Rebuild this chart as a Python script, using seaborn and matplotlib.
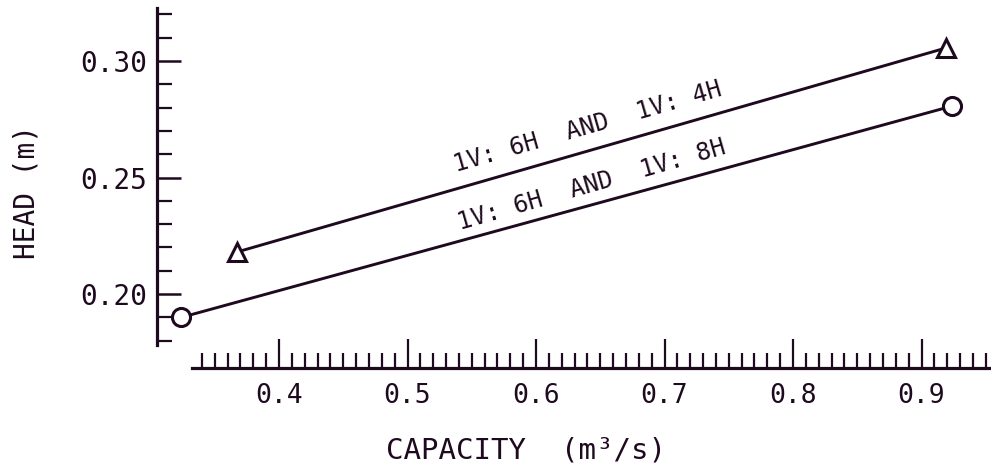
import matplotlib
matplotlib.use('Agg')
import matplotlib.pyplot as plt
import seaborn as sns
from matplotlib.ticker import FormatStrFormatter

# Values
capacity_48 = [0.367, 0.919]   # 1V:6H and 1V:4H (triangles)
head_48 = [0.218, 0.3056]
capacity_68 = [0.324, 0.924]   # 1V:6H and 1V:8H (circles)
head_68 = [0.190, 0.2807]
label_48 = '1V: 6H  AND  1V: 4H'
label_68 = '1V: 6H  AND  1V: 8H'
x_major = [0.4, 0.5, 0.6, 0.7, 0.8, 0.9]
y_major = [0.20, 0.25, 0.30]

ink = '#1e0a1e'

sns.set_theme(style='white')
plt.rcParams['font.family'] = ['DejaVu Sans Mono', 'DejaVu Sans']

fig = plt.figure(figsize=(9.91, 4.68), dpi=100)
ax = fig.add_axes([0.1519, 0.1974, 0.8493, 0.7967])

sns.lineplot(x=capacity_48, y=head_48, ax=ax, color=ink, lw=2.1, marker='^',
             markersize=13, markerfacecolor='white', markeredgecolor=ink,
             markeredgewidth=2.2)
sns.lineplot(x=capacity_68, y=head_68, ax=ax, color=ink, lw=2.1, marker='o',
             markersize=13, markerfacecolor='white', markeredgecolor=ink,
             markeredgewidth=2.2)

ax.set_xlim(0.30, 0.955)
ax.set_ylim(0.165, 0.325)

# axis layout: detached spines like a plotter drawing
ax.spines['top'].set_visible(False)
ax.spines['right'].set_visible(False)
ax.spines['left'].set_position(('data', 0.305))
ax.spines['bottom'].set_position(('data', 0.1682))
ax.spines['left'].set_bounds(0.1781, 0.3227)
ax.spines['bottom'].set_bounds(0.3323, 0.9533)
for s in ('left', 'bottom'):
    ax.spines[s].set_color(ink)
    ax.spines[s].set_linewidth(2.3)

ax.set_xticks(x_major)
ax.set_xticks([x / 100 for x in range(34, 96)], minor=True)
ax.set_yticks(y_major)
ax.set_yticks([y / 100 for y in range(18, 33)], minor=True)
ax.xaxis.set_major_formatter(FormatStrFormatter('%.1f'))
ax.yaxis.set_major_formatter(FormatStrFormatter('%.2f'))

ax.tick_params(axis='x', which='major', direction='in', length=21, width=1.6,
               color=ink, labelcolor=ink, labelsize=19, pad=11, bottom=True)
ax.tick_params(axis='x', which='minor', direction='in', length=11, width=1.6,
               color=ink, bottom=True)
ax.tick_params(axis='y', which='major', direction='in', length=17, width=1.8,
               color=ink, labelcolor=ink, labelsize=20, pad=7, left=True)
ax.tick_params(axis='y', which='minor', direction='in', length=11, width=1.6,
               color=ink, left=True)

ax.set_xlabel('')
ax.set_ylabel('')
fig.text(0.027, 0.59, 'HEAD (m)', rotation=90, ha='center', va='center',
         fontsize=20, color=ink)
fig.text(0.531, 0.038, 'CAPACITY  (m\u00b3/s)', ha='center', va='center',
         fontsize=21, color=ink)

ax.text(0.640, 0.2715, label_48, rotation=16, ha='center', va='center',
        rotation_mode='anchor', fontsize=17.5, color=ink)
ax.text(0.643, 0.2468, label_68, rotation=16, ha='center', va='center',
        rotation_mode='anchor', fontsize=17.5, color=ink)

fig.savefig('out.png', dpi=100, facecolor='white')
